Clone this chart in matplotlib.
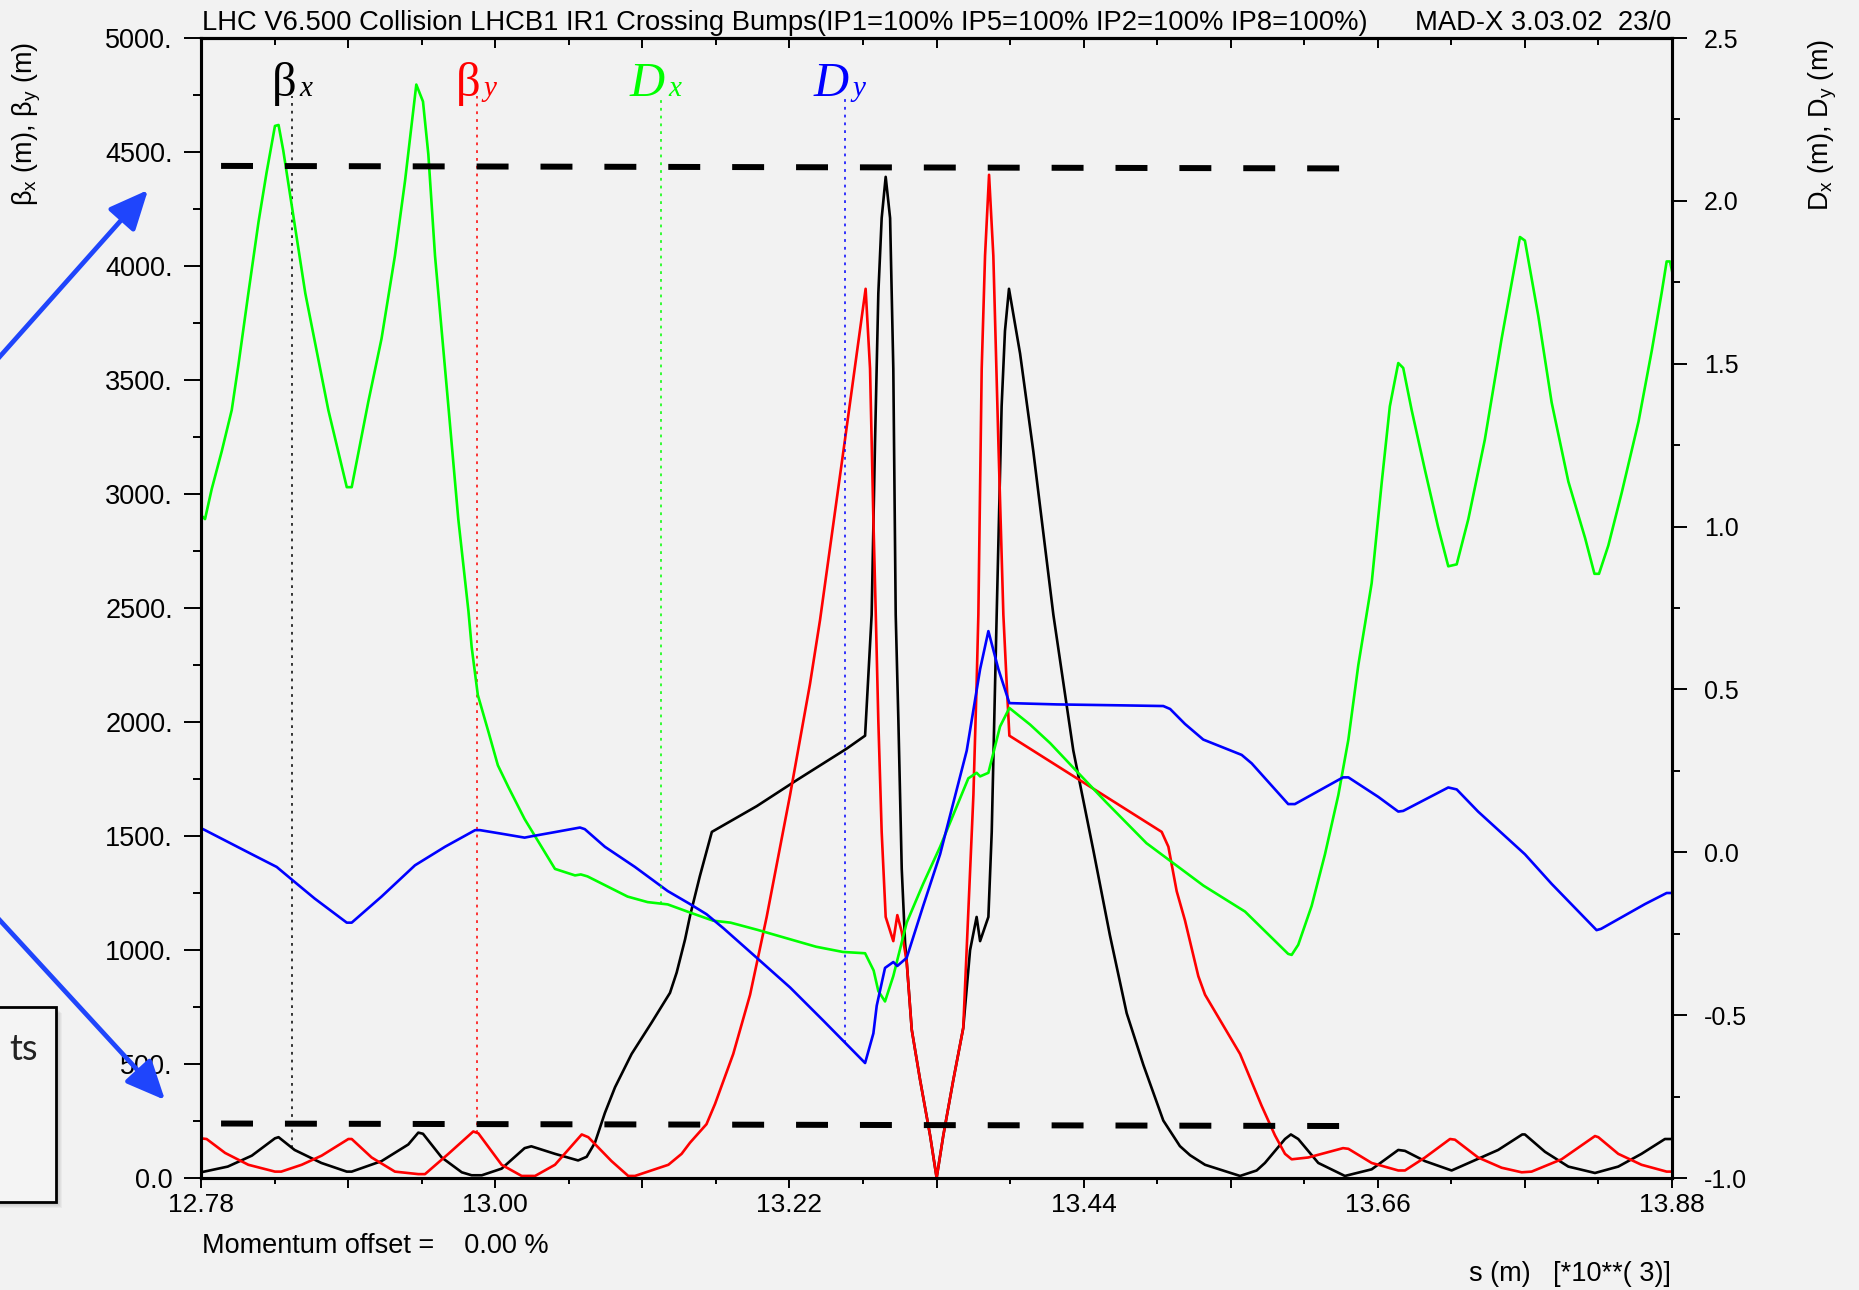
import numpy as np
import matplotlib
matplotlib.use('Agg')
import matplotlib.pyplot as plt
from matplotlib.ticker import MultipleLocator, FuncFormatter
from matplotlib.patches import Rectangle, FancyArrowPatch, ArrowStyle
from matplotlib.transforms import offset_copy

plt.rcParams['font.family'] = ['Liberation Sans', 'DejaVu Sans']
plt.rcParams['mathtext.fontset'] = 'custom'
plt.rcParams['mathtext.rm'] = 'Liberation Sans'
plt.rcParams['mathtext.it'] = 'Liberation Sans:italic'
plt.rcParams['lines.scale_dashes'] = False

# ---- data (s in km, beta in m, dispersion in m) ----
betx_s = [12.780, 12.800, 12.818, 12.8353, 12.838, 12.850, 12.870, 12.889, 12.8927, 12.915,
          12.935, 12.9425, 12.946, 12.960, 12.975, 12.9824, 12.990, 13.0048, 13.022, 13.027,
          13.0447, 13.062, 13.0684, 13.0746, 13.082, 13.0896, 13.102, 13.117, 13.1307, 13.1357,
          13.142, 13.1457, 13.153, 13.162, 13.1956, 13.2255, 13.2628, 13.2766, 13.2815, 13.284,
          13.2865, 13.289, 13.292, 13.2953, 13.2977, 13.2995, 13.3015, 13.304, 13.3065, 13.3077,
          13.3115, 13.3177, 13.3252, 13.3301, 13.3351, 13.3426, 13.350, 13.3551, 13.360, 13.3626,
          13.3688, 13.3713, 13.3738, 13.375, 13.3787, 13.3812, 13.3842, 13.3925, 13.4024, 13.4174,
          13.4323, 13.4473, 13.4597, 13.4722, 13.4847, 13.4996, 13.512, 13.5196, 13.5308, 13.557,
          13.5694, 13.5756, 13.5906, 13.595, 13.6005, 13.6155, 13.6354, 13.6554, 13.6753, 13.6803,
          13.6953, 13.7152, 13.750, 13.768, 13.770, 13.785, 13.8025, 13.8224, 13.8398, 13.8572,
          13.8747, 13.880]
betx = [25, 50, 98, 174, 179, 123, 66, 28, 28, 74,
        147, 199, 194, 90, 25, 12, 12, 41, 131, 139,
        106, 77, 93, 155, 285, 398, 544, 682, 812, 901,
        1047, 1150, 1323, 1518, 1631, 1745, 1883, 1940, 2470, 3220,
        3880, 4210, 4391, 4210, 3550, 2470, 2005, 1356, 1031, 950,
        650, 431, 187, 1, 187, 431, 658, 999, 1145, 1039,
        1145, 1518, 2167, 2470, 3385, 3715, 3900, 3616, 3187, 2470,
        1875, 1437, 1064, 723, 496, 252, 140, 100, 58, 9,
        33, 66, 171, 191, 171, 66, 9, 38, 123, 119,
        74, 33, 123, 191, 191, 115, 50, 22, 50, 106,
        171, 171]

bety_s = [12.780, 12.7842, 12.798, 12.8154, 12.8353, 12.840, 12.8553, 12.8702, 12.8902, 12.8927,
          12.9076, 12.925, 12.9425, 12.9475, 12.965, 12.9836, 12.9874, 13.0048, 13.0198, 13.0298,
          13.0447, 13.0647, 13.0696, 13.087, 13.0995, 13.1045, 13.1295, 13.1394, 13.1457, 13.158,
          13.1644, 13.178, 13.1906, 13.203, 13.2205, 13.2354, 13.2429, 13.2616,
          13.277, 13.2803, 13.2828, 13.2846, 13.2865, 13.289, 13.292, 13.2977, 13.3007, 13.304,
          13.3077, 13.3115, 13.3177, 13.3252, 13.3301, 13.3351, 13.3426, 13.350, 13.3576, 13.360,
          13.3613, 13.3638, 13.3663, 13.3693, 13.3725, 13.3763, 13.380, 13.3825, 13.3845, 13.4984,
          13.5034, 13.5096, 13.5158, 13.5258, 13.5308, 13.557, 13.5731, 13.5831, 13.5906, 13.5956,
          13.608, 13.634, 13.638, 13.6554, 13.6753, 13.6803, 13.6953, 13.714, 13.7177, 13.735,
          13.7526, 13.7676, 13.775, 13.7974, 13.8224, 13.8249, 13.8398, 13.8572, 13.876, 13.880]
bety = [174, 171, 110, 58, 28, 28, 58, 98, 171, 171,
        90, 28, 17, 17, 106, 204, 196, 58, 9, 9,
        58, 191, 179, 74, 9, 9, 58, 106, 155, 236,
        325, 544, 804, 1145, 1680, 2167, 2447, 3240,
        3900, 3550, 2890, 2470, 2005, 1518, 1145, 1039, 1153, 1080,
        950, 650, 431, 187, 1, 187, 431, 658, 1680, 2167,
        2470, 3550, 4045, 4400, 4045, 3220, 2470, 2167, 1940, 1518,
        1453, 1258, 1130, 885, 804, 544, 317, 187, 106, 82,
        90, 131, 128, 66, 33, 33, 90, 171, 168, 90,
        45, 25, 28, 82, 184, 179, 106, 58, 28, 28]

dx_s = [12.780, 12.783, 12.788, 12.7955, 12.803, 12.808, 12.8154, 12.823, 12.829, 12.8353,
        12.838, 12.8415, 12.858, 12.8752, 12.889, 12.8927, 12.905, 12.915, 12.925, 12.9326,
        12.941, 12.946, 12.950, 12.955, 12.965, 12.9724, 12.980, 12.9824, 12.987, 12.995,
        13.002, 13.010, 13.022, 13.0447, 13.0597, 13.064, 13.069, 13.099, 13.114, 13.129,
        13.1457, 13.163, 13.176, 13.196, 13.2205, 13.240, 13.260, 13.2766, 13.283, 13.2865,
        13.2915, 13.2977, 13.3077, 13.320, 13.3327, 13.3538, 13.360, 13.3626, 13.3688, 13.3775,
        13.3845, 13.400, 13.415, 13.432, 13.457, 13.487, 13.5158, 13.5295, 13.5607, 13.593,
        13.5956, 13.6005, 13.6105, 13.6205, 13.6305, 13.638, 13.6454, 13.6516, 13.6554, 13.663,
        13.669, 13.6723, 13.6753, 13.679, 13.6853, 13.6953, 13.705, 13.7127, 13.719, 13.7277,
        13.740, 13.7526, 13.7663, 13.770, 13.780, 13.790, 13.8025, 13.815, 13.822, 13.8254,
        13.8324, 13.8424, 13.855, 13.865, 13.8722, 13.876, 13.8785, 13.880]
dx = [1.035, 1.023, 1.115, 1.231, 1.358, 1.497, 1.716, 1.935, 2.086, 2.230,
      2.233, 2.155, 1.716, 1.358, 1.121, 1.121, 1.381, 1.577, 1.831, 2.062,
      2.357, 2.305, 2.143, 1.831, 1.369, 1.023, 0.740, 0.630, 0.483, 0.369,
      0.267, 0.199, 0.102, -0.051, -0.071, -0.068, -0.074, -0.136, -0.153, -0.160,
      -0.185, -0.210, -0.216, -0.238, -0.267, -0.290, -0.306, -0.310, -0.363, -0.426,
      -0.458, -0.380, -0.216, -0.097, 0.017, 0.227, 0.244, 0.233, 0.244, 0.386,
      0.443, 0.392, 0.335, 0.261, 0.153, 0.028, -0.060, -0.102, -0.182, -0.312,
      -0.315, -0.284, -0.165, -0.006, 0.176, 0.346, 0.574, 0.730, 0.826, 1.138,
      1.369, 1.439, 1.502, 1.487, 1.358, 1.173, 1.000, 0.878, 0.884, 1.023,
      1.266, 1.577, 1.889, 1.878, 1.647, 1.381, 1.138, 0.965, 0.855, 0.855,
      0.942, 1.104, 1.323, 1.543, 1.716, 1.814, 1.814, 1.785]

dy_s = [12.780, 12.783, 12.8005, 12.818, 12.8366, 12.850, 12.865, 12.889, 12.8927, 12.915,
        12.940, 12.9625, 12.985, 12.9886, 13.0048, 13.022, 13.027, 13.0447, 13.0634, 13.067,
        13.082, 13.1045, 13.129, 13.1457, 13.158, 13.1706, 13.1956, 13.2205, 13.2454, 13.2766,
        13.2828, 13.2853, 13.2915, 13.2977, 13.3007, 13.3077, 13.320, 13.3327, 13.3526, 13.3626,
        13.3688, 13.3763, 13.3845, 13.420, 13.470, 13.4996, 13.5047, 13.5158, 13.5295, 13.5582,
        13.5657, 13.593, 13.598, 13.634, 13.638, 13.6604, 13.6753, 13.679, 13.7127, 13.719,
        13.735, 13.770, 13.790, 13.8236, 13.827, 13.8598, 13.876, 13.880]
dy = [0.074, 0.068, 0.031, -0.006, -0.045, -0.091, -0.142, -0.216, -0.216, -0.136,
      -0.040, 0.017, 0.068, 0.068, 0.057, 0.045, 0.049, 0.062, 0.076, 0.071,
      0.017, -0.045, -0.119, -0.159, -0.190, -0.233, -0.324, -0.415, -0.517, -0.647,
      -0.556, -0.471, -0.355, -0.337, -0.349, -0.324, -0.165, -0.006, 0.312, 0.562,
      0.679, 0.562, 0.458, 0.454, 0.451, 0.449, 0.440, 0.394, 0.346, 0.299,
      0.273, 0.148, 0.148, 0.230, 0.230, 0.170, 0.125, 0.127, 0.199, 0.193,
      0.125, -0.006, -0.097, -0.239, -0.235, -0.159, -0.125, -0.125]

# curve label positions (s) and names
label_s = [12.8483, 12.9862, 13.124, 13.2616]
label_main = ['\u03b2', '\u03b2', 'D', 'D']
label_sub = ['x', 'y', 'x', 'y']
label_color = ['black', 'red', '#00ff00', '#0000ff']
label_top_beta = 4746

# hand drawn dashed limits (beta scale)
limit_s = [12.795, 13.633]
limit_upper = [4439, 4428]
limit_lower = [239, 228]

x_ticks = [12.78, 12.89, 13.00, 13.11, 13.22, 13.33, 13.44, 13.55, 13.66, 13.77, 13.88]
x_labels = ['12.78', '', '13.00', '', '13.22', '', '13.44', '', '13.66', '', '13.88']
x_minor = [12.835, 12.945, 13.055, 13.165, 13.275, 13.385, 13.495, 13.605, 13.715, 13.825]

title = 'LHC V6.500 Collision LHCB1 IR1 Crossing Bumps(IP1=100% IP5=100% IP2=100% IP8=100%)'

W, H = 1859, 1290
def fx(x):
    return x / W
def fy(y):
    return 1 - y / H

fig = plt.figure(figsize=(18.59, 12.90), dpi=100, facecolor='#f2f2f2')
ax1 = fig.add_axes([fx(201), fy(1178), (1672 - 201) / W, (1178 - 38) / H])
ax1.set_facecolor('#f2f2f2')
ax2 = ax1.twinx()

LW = 1.9
ax1.plot(betx_s, betx, color='black', lw=LW)
ax1.plot(bety_s, bety, color='red', lw=LW)
ax2.plot(dx_s, dx, color='#00ff00', lw=LW)
ax2.plot(dy_s, dy, color='#0000ff', lw=LW)

ax1.set_xlim(12.78, 13.88)
ax1.set_ylim(0, 5000)
ax2.set_ylim(-1, 2.5)

# dotted label lines, from the label down to the curve
d_top = -1 + label_top_beta / 5000 * 3.5
dots = (0, (2.0, 3.6))
ax1.plot([label_s[0]] * 2, [np.interp(label_s[0], betx_s, betx), label_top_beta], color='black', lw=1.1, ls=dots)
ax1.plot([label_s[1]] * 2, [np.interp(label_s[1], bety_s, bety), label_top_beta], color='red', lw=1.1, ls=dots)
ax2.plot([label_s[2]] * 2, [np.interp(label_s[2], dx_s, dx), d_top], color='#00ff00', lw=1.1, ls=dots)
ax2.plot([label_s[3]] * 2, [np.interp(label_s[3], dy_s, dy), d_top], color='#0000ff', lw=1.1, ls=dots)

for s, m, sub, c in zip(label_s, label_main, label_sub, label_color):
    sty = 'normal' if m == '\u03b2' else 'italic'
    t1 = offset_copy(ax1.transData, fig=fig, x=4, y=0, units='dots')
    t2 = offset_copy(ax1.transData, fig=fig, x=7, y=0, units='dots')
    ax1.text(s, label_top_beta, m, transform=t1, ha='right', va='baseline', color=c,
             fontsize=35, family='Liberation Serif', style=sty)
    ax1.text(s, label_top_beta, sub, transform=t2, ha='left', va='baseline', color=c,
             fontsize=21, family='Liberation Serif', style='italic')

# dashed limit lines on top
ax2.plot(limit_s, limit_upper, transform=ax1.transData, color='black', lw=4.3,
         dashes=(23, 23), solid_capstyle='butt', dash_capstyle='butt', zorder=6)
ax2.plot(limit_s, limit_lower, transform=ax1.transData, color='black', lw=4.3,
         dashes=(23, 23), solid_capstyle='butt', dash_capstyle='butt', zorder=6)
ax2.set_ylim(-1, 2.5)

# ticks
ax1.set_xticks(x_ticks, labels=x_labels)
ax1.set_xticks(x_minor, minor=True)
ax1.tick_params(axis='x', which='major', direction='out', length=7, width=1.4, labelsize=19, pad=4)
ax1.tick_params(axis='x', which='minor', direction='out', length=4.3, width=1.4)
sec = ax1.secondary_xaxis('top')
sec.set_xticks(x_ticks, labels=[''] * len(x_ticks))
sec.set_xticks(x_minor, minor=True)
sec.tick_params(axis='x', which='major', direction='in', length=7.5, width=1.4)
sec.tick_params(axis='x', which='minor', direction='in', length=5, width=1.4)
sec.spines['top'].set_linewidth(2.2)

ax1.yaxis.set_major_locator(MultipleLocator(500))
ax1.yaxis.set_minor_locator(MultipleLocator(250))
ax1.yaxis.set_major_formatter(FuncFormatter(lambda v, p: '0.0' if v == 0 else '%d.' % v))
ax1.tick_params(axis='y', which='major', direction='out', length=12.2, width=1.4, labelsize=19.5, pad=8)
ax1.tick_params(axis='y', which='minor', direction='out', length=5.8, width=1.4)

ax2.yaxis.set_major_locator(MultipleLocator(0.5))
ax2.yaxis.set_minor_locator(MultipleLocator(0.25))
ax2.yaxis.set_major_formatter(FuncFormatter(lambda v, p: '%.1f' % v))
ax2.tick_params(axis='y', which='major', direction='out', length=10.8, width=1.4, labelsize=18, pad=12)
ax2.tick_params(axis='y', which='minor', direction='out', length=5.8, width=1.4)

for a in (ax1, ax2):
    for sp in a.spines.values():
        sp.set_linewidth(2.2)

# texts around the frame
fig.text(fx(202), fy(30), title, ha='left', va='baseline', fontsize=19.75)
fig.text(fx(1671), fy(30), 'MAD-X 3.03.02  23/0', ha='right', va='baseline', fontsize=19.75)
fig.text(fx(202), fy(1253), 'Momentum offset =    0.00 %', ha='left', va='baseline', fontsize=19.5)
fig.text(fx(1671), fy(1281), 's (m)   [*10**( 3)]', ha='right', va='baseline', fontsize=19.5)
fig.text(fx(27), fy(124), '\u03b2$_{\\rm x}$ (m), \u03b2$_{\\rm y}$ (m)', rotation=90,
         ha='center', va='center', fontsize=19.5)
fig.text(fx(1823), fy(125), r'D$_{\rm x}$ (m), D$_{\rm y}$ (m)', rotation=90,
         ha='center', va='center', fontsize=19.5)

# slide overlay: blue arrows and the cut off box
arrow_style = ArrowStyle('-|>', head_length=1.0, head_width=0.45)
for (x0, y0), (x1, y1) in [((-5, 362), (148, 190)), ((-5, 915), (165, 1100))]:
    fig.add_artist(FancyArrowPatch((fx(x0), fy(y0)), (fx(x1), fy(y1)), transform=fig.transFigure,
                                   arrowstyle=arrow_style, mutation_scale=24, color='#1f45fc',
                                   lw=3.4, shrinkA=0, shrinkB=0))

for k in range(1, 7):
    fig.add_artist(Rectangle((fx(-10 + k), fy(1202 + k)), 66 / W, 195 / H, transform=fig.transFigure,
                             facecolor='black', edgecolor='none', alpha=0.035))
fig.add_artist(Rectangle((fx(-10), fy(1202)), 66 / W, 195 / H, transform=fig.transFigure,
                         facecolor='#f4f4f4', edgecolor='black', lw=2))
fig.text(fx(38), fy(1060), 'ts', ha='right', va='baseline', fontsize=26, color='#222222', family='Lato')

fig.savefig('out.png', dpi=100, facecolor=fig.get_facecolor())
